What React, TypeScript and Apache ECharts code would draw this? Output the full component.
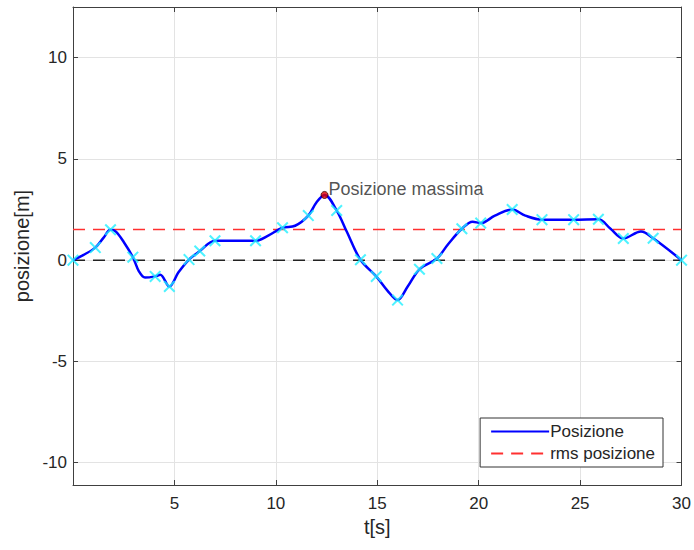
import React, { useEffect, useRef } from "react";
import * as echarts from "echarts";

const curveT = [0, 0.5, 1.1, 1.5, 1.85, 2.1, 2.5, 2.95, 3.25, 3.55, 4.05, 4.3, 4.75, 5.2, 5.72, 6.25, 7.0, 8.0, 9.0, 9.6, 10.33, 10.95, 11.6, 12.0, 12.4, 13.0, 13.5, 14.17, 14.95, 15.5, 16.0, 16.5, 17.08, 17.94, 18.5, 19.17, 19.7, 20.1, 20.8, 21.65, 22.3, 23.12, 24.68, 25.9, 26.5, 27.13, 28.0, 28.6, 30];
const curveY = [0, 0.25, 0.62, 1.1, 1.5, 1.42, 0.9, 0.15, -0.55, -0.86, -0.8, -0.72, -1.3, -0.6, 0.03, 0.45, 0.96, 0.96, 0.96, 1.2, 1.6, 1.7, 2.2, 2.85, 3.22, 2.45, 1.4, 0.02, -0.8, -1.5, -1.97, -1.3, -0.45, 0.08, 0.8, 1.55, 1.9, 1.83, 2.2, 2.5, 2.2, 2.0, 2.0, 2.02, 1.55, 1.07, 1.42, 1.08, 0];

const markerT = [0, 1.1, 1.85, 2.95, 4.05, 4.75, 5.72, 6.25, 7.0, 9.0, 10.33, 11.6, 13.0, 14.17, 14.95, 16.0, 17.08, 17.94, 19.17, 20.1, 21.65, 23.12, 24.68, 25.9, 27.13, 28.6, 30];
const markerY = [0, 0.62, 1.5, 0.15, -0.8, -1.3, 0.03, 0.45, 0.96, 0.96, 1.6, 2.2, 2.45, 0.02, -0.8, -1.97, -0.45, 0.08, 1.55, 1.83, 2.5, 2.0, 2.0, 2.02, 1.07, 1.08, 0];

const rmsValue = 1.52;
const peakPoint = [12.4, 3.22];
const peakLabel = "Posizione massima";
const yTicks = [-10, -5, 0, 5, 10];
const xTicks = [5, 10, 15, 20, 25, 30];
const xRange = [0, 30];
const yRange = [-11.1, 12.5];

const FONT = "Liberation Sans, Arial, sans-serif";
const TXT = "#262626";
const AX = "#404040";
const GRIDC = "#e3e3e3";
const XSYM = "path://M0,1.2 L1.2,0 L5,3.8 L8.8,0 L10,1.2 L6.2,5 L10,8.8 L8.8,10 L5,6.2 L1.2,10 L0,8.8 L3.8,5 Z";

export default function App() {
  const ref = useRef<HTMLDivElement>(null);
  useEffect(() => {
    if (!ref.current) return;
    const chart = echarts.init(ref.current, undefined, { renderer: "svg" });
    const curve = curveT.map((t, i) => [t, curveY[i]]);
    const markers = markerT.map((t, i) => [t, markerY[i]]);
    const baseX = {
      type: "value",
      min: xRange[0],
      max: xRange[1],
      interval: 5,
    };
    const baseY = {
      type: "value",
      min: yRange[0],
      max: yRange[1],
    };
    chart.setOption({
      animation: false,
      backgroundColor: "#ffffff",
      grid: { left: 73, top: 7, width: 609, height: 478, containLabel: false },
      legend: {
        data: ["Posizione", "rms posizione"],
        orient: "vertical",
        right: 31,
        top: 418,
        backgroundColor: "#ffffff",
        borderColor: "#333333",
        borderWidth: 1,
        borderRadius: 0,
        padding: [5, 8, 5, 10],
        itemWidth: 58,
        itemHeight: 14,
        itemGap: 5,
        itemStyle: { opacity: 0 },
        textStyle: { fontFamily: FONT, fontSize: 17, color: TXT, padding: [0, 0, 0, -4] },
      },
      xAxis: [
        {
          ...baseX,
          position: "bottom",
          axisLine: { show: true, onZero: false, lineStyle: { color: AX, width: 1 } },
          axisTick: { show: true, inside: true, length: 5, lineStyle: { color: AX } },
          axisLabel: {
            customValues: xTicks,
            fontFamily: FONT,
            fontSize: 17,
            color: TXT,
            margin: 10,
          },
          splitLine: { show: true, lineStyle: { color: GRIDC, width: 1 } },
          name: "t[s]",
          nameLocation: "middle",
          nameGap: 32,
          nameTextStyle: { fontFamily: FONT, fontSize: 20, color: TXT },
        },
        {
          ...baseX,
          position: "top",
          axisLine: { show: true, onZero: false, lineStyle: { color: AX, width: 1 } },
          axisTick: { show: true, inside: true, length: 5, lineStyle: { color: AX } },
          axisLabel: { show: false },
          splitLine: { show: false },
        },
      ],
      yAxis: [
        {
          ...baseY,
          position: "left",
          axisLine: { show: true, onZero: false, lineStyle: { color: AX, width: 1 } },
          axisTick: { show: true, inside: true, length: 5, customValues: yTicks, lineStyle: { color: AX } },
          axisLabel: {
            customValues: yTicks,
            fontFamily: FONT,
            fontSize: 17,
            color: TXT,
            margin: 6,
          },
          splitLine: { show: true, lineStyle: { color: GRIDC, width: 1 } },
          name: "posizione[m]",
          nameLocation: "middle",
          nameGap: 37,
          nameTextStyle: { fontFamily: FONT, fontSize: 20, color: TXT },
        },
        {
          ...baseY,
          position: "right",
          axisLine: { show: true, onZero: false, lineStyle: { color: AX, width: 1 } },
          axisTick: { show: true, inside: true, length: 5, customValues: yTicks, lineStyle: { color: AX } },
          axisLabel: { show: false },
          splitLine: { show: false },
        },
      ],
      series: [
        {
          name: "zero",
          type: "line",
          data: [[xRange[0], 0], [xRange[1], 0]],
          symbol: "none",
          lineStyle: { color: "#222222", width: 1.5, type: [12, 8] },
          silent: true,
          z: 2,
        },
        {
          name: "rms posizione",
          type: "line",
          data: [[xRange[0], rmsValue], [xRange[1], rmsValue]],
          symbol: "none",
          color: "#ff3030",
          lineStyle: { color: "#ff3030", width: 1.5, type: [12, 8] },
          z: 2,
        },
        {
          name: "Posizione",
          type: "line",
          data: curve,
          symbol: "none",
          smooth: 0.35,
          color: "#0000ff",
          lineStyle: { color: "#0000ff", width: 2.5 },
          z: 3,
        },
        {
          name: "campioni",
          type: "scatter",
          data: markers,
          symbol: XSYM,
          symbolSize: 12,
          itemStyle: { color: "#22f0ff" },
          z: 4,
        },
        {
          name: "massimo",
          type: "scatter",
          data: [peakPoint],
          symbol: "circle",
          symbolSize: 7,
          itemStyle: { color: "#e00000", borderColor: "#3a0000", borderWidth: 1 },
          label: {
            show: true,
            position: "right",
            distance: 0,
            offset: [0, -6],
            formatter: peakLabel,
            fontFamily: FONT,
            fontSize: 18,
            color: TXT,
          },
          z: 5,
        },
      ],
    });
    return () => chart.dispose();
  }, []);
  return (
    <div
      ref={ref}
      style={{ position: "fixed", left: 0, top: 0, width: 694, height: 550, background: "#fff" }}
    />
  );
}
